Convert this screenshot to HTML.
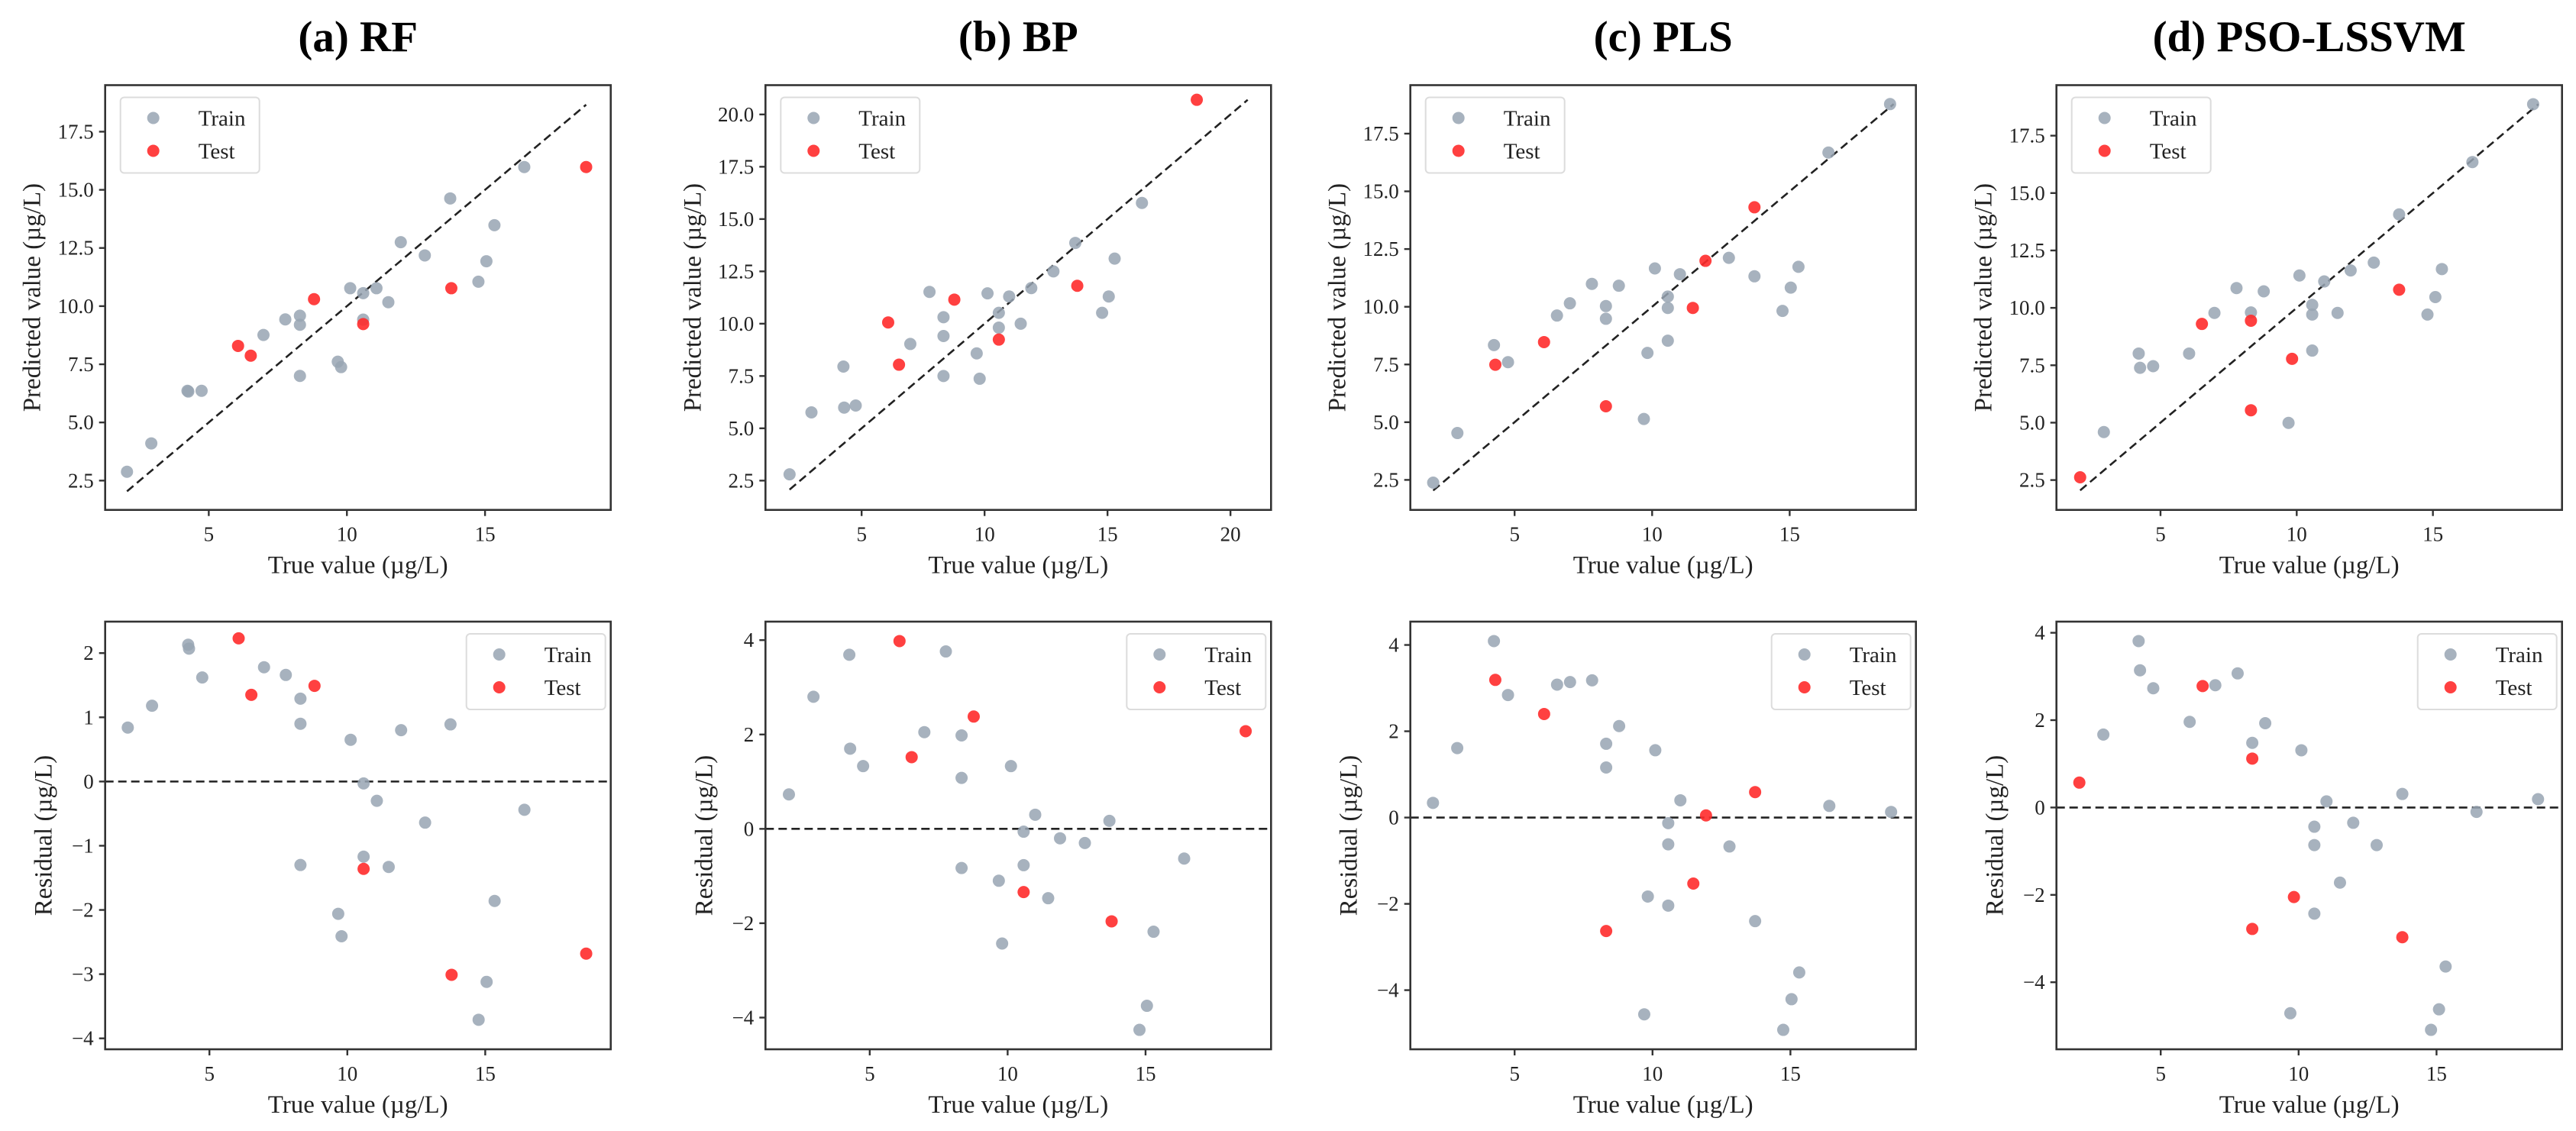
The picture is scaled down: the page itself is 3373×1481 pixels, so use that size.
<!DOCTYPE html>
<html><head><meta charset="utf-8">
<style>
html,body{margin:0;padding:0;background:#fff;}
svg{display:block;font-family:"Liberation Serif","DejaVu Serif",serif;}
</style></head>
<body>
<svg id="fig" xmlns="http://www.w3.org/2000/svg" width="3373" height="1481" viewBox="0 0 3373 1481"></svg>
<script>
// ---------- data ----------
const aTrainTrue=[2.04,2.92,4.23,4.26,4.74,6.98,7.77,8.3,8.3,8.3,9.67,9.79,10.12,10.59,10.59,11.07,11.5,11.95,12.82,13.74,14.76,15.05,15.34,16.42];
const aTrainPred=[2.88,4.1,6.36,6.33,6.36,8.76,9.43,9.59,9.2,7.0,7.61,7.38,10.77,10.56,9.42,10.77,10.17,12.75,12.18,14.63,11.05,11.93,13.48,15.98];
const aTestTrue=[6.06,6.52,8.81,10.59,13.78,18.66];
const aTestPred=[8.29,7.87,10.3,9.23,10.77,15.98];

const bTrainTrue=[2.07,2.96,4.26,4.29,4.76,6.98,7.76,8.33,8.33,8.33,9.68,9.8,10.12,10.58,10.58,11.0,11.47,11.9,12.8,13.69,14.78,15.05,15.29,16.4];
const bTrainPred=[2.8,5.76,7.95,5.99,6.09,9.03,11.52,10.31,9.41,7.5,8.58,7.37,11.45,10.52,9.81,11.3,10.0,11.7,12.5,13.86,10.52,11.3,13.11,15.77];
const bTestTrue=[6.08,6.52,8.77,10.58,13.77,18.63];
const bTestPred=[10.06,8.04,11.15,9.24,11.81,20.7];

const cTrainTrue=[2.04,2.92,4.25,4.76,6.54,7.01,7.81,8.32,8.32,8.79,9.7,9.83,10.1,10.57,10.57,10.57,11.01,12.79,13.72,14.74,15.04,15.32,16.41,18.65];
const cTrainPred=[2.38,4.53,8.34,7.6,9.62,10.15,10.99,10.03,9.48,10.91,5.14,8.0,11.66,10.44,9.95,8.53,11.41,12.12,11.32,9.82,10.83,11.73,16.68,18.78];
const cTestTrue=[4.3,6.07,8.32,11.48,11.94,13.72];
const cTestPred=[7.49,8.47,5.69,9.95,11.99,14.31];

const dTrainTrue=[2.92,4.2,4.25,4.73,6.05,6.98,7.79,8.32,8.79,9.7,10.1,10.57,10.57,10.57,11.01,11.5,11.98,12.83,13.76,14.8,15.09,15.33,16.45,18.68];
const dTrainPred=[4.59,8.01,7.39,7.46,8.01,9.78,10.86,9.8,10.72,4.99,11.41,10.13,9.71,8.14,11.15,9.78,11.63,11.97,14.07,9.71,10.47,11.69,16.35,18.87];
const dTestTrue=[2.05,6.52,8.32,8.32,9.83,13.76];
const dTestPred=[2.62,9.3,9.44,5.54,7.78,10.79];

const panelTitles=["(a) RF","(b) BP","(c) PLS","(d) PSO-LSSVM"];
const topYTicks=[2.5,5.0,7.5,10.0,12.5,15.0,17.5];
const topYTicksB=[2.5,5.0,7.5,10.0,12.5,15.0,17.5,20.0];
const topXTicks=[5,10,15];
const topXTicksB=[5,10,15,20];
const resYTicksA=[-4,-3,-2,-1,0,1,2];
const resYTicks=[-4,-2,0,2,4];

// ---------- layout ----------
const NS="http://www.w3.org/2000/svg";
const svg=document.getElementById('fig');
const lefts=[137.7,1002.3,1846.7,2692.7];
const W=662;
const topBox={y0:111.5,y1:667.7};
const botBox={y0:814,y1:1374};
const topLims=[{x:[1.25,19.55],y:[1.24,19.5]},{x:[1.09,21.65],y:[1.1,21.4]},{x:[1.21,19.59],y:[1.2,19.6]},{x:[1.18,19.74],y:[1.2,19.7]}];
const GREY="#98a5b3", RED="#ff2b2b", AX="#333";

function el(tag,attrs,parent){const e=document.createElementNS(NS,tag);for(const k in attrs)e.setAttribute(k,attrs[k]);(parent||svg).appendChild(e);return e;}
function fmt(v,dec){let s=v.toFixed(dec);return s.replace('-','\u2212');}

function drawPanel(i,kind,trT,trP,teT,teP,yTicks,xTicks,xlim,ylim,yDec,legendRight){
  const L=lefts[i],R=L+W;
  const box=kind==='top'?topBox:botBox;
  const g=el('g',{});
  
  
  const sx=v=>L+(v-xlim[0])/(xlim[1]-xlim[0])*W;
  const sy=v=>box.y1-(v-ylim[0])/(ylim[1]-ylim[0])*(box.y1-box.y0);
  const clip='clip'+kind+i;
  const cp=el('clipPath',{id:clip},g);el('rect',{x:L,y:box.y0,width:W,height:box.y1-box.y0},cp);
  if(kind==='top'){
    const all=trT.concat(trP,teT,teP);const mn=Math.min(...all),mx=Math.max(...all);
    const ln=el('line',{x1:sx(mn),y1:sy(mn),x2:sx(mx),y2:sy(mx),stroke:"#222","stroke-width":2.6,"stroke-dasharray":"11 6"},g);
    
    
  }else{
    const ln=el('line',{x1:L,y1:sy(0),x2:R,y2:sy(0),stroke:"#222","stroke-width":2.6,"stroke-dasharray":"11 6"},g);
    
    
  }
  const pts=el('g',{"clip-path":"url(#"+clip+")"},g);
  trT.forEach((t,k)=>{const c=el('circle',{cx:sx(t),cy:sy(trP[k]),r:8,fill:GREY,"fill-opacity":0.85},pts);
    
    });
  teT.forEach((t,k)=>{const c=el('circle',{cx:sx(t),cy:sy(teP[k]),r:8,fill:RED,"fill-opacity":0.9},pts);
    
    });
  const fr=el('rect',{x:L,y:box.y0,width:W,height:box.y1-box.y0,fill:"none",stroke:AX,"stroke-width":2.6},g);
  
  
  yTicks.forEach(v=>{const y=sy(v);
    el('line',{x1:L-8,y1:y,x2:L,y2:y,stroke:AX,"stroke-width":2.4},g);
    const t=el('text',{x:L-15,y:y+9,"text-anchor":"end","font-size":27,fill:"#222"},g);t.textContent=fmt(v,yDec);
    
    });
  xTicks.forEach(v=>{const x=sx(v);
    el('line',{x1:x,y1:box.y1,x2:x,y2:box.y1+8,stroke:AX,"stroke-width":2.4},g);
    const t=el('text',{x:x,y:box.y1+41,"text-anchor":"middle","font-size":27,fill:"#222"},g);t.textContent=fmt(v,0);
    
    });
  const xl=el('text',{x:L+W/2,y:box.y1+83,"text-anchor":"middle","font-size":33,fill:"#222"},g);
  xl.textContent="True value (\u00b5g/L)";
  
  
  const cy=(box.y0+box.y1)/2, lx=kind==='top'?L-85:L-70;
  const yl=el('text',{x:lx,y:cy,"text-anchor":"middle","font-size":33,fill:"#222",transform:`rotate(-90 ${lx} ${cy})`},g);
  yl.textContent=kind==='top'?"Predicted value (\u00b5g/L)":"Residual (\u00b5g/L)";
  
  
  const lw=182,lh=99;const lxp=legendRight?R-7-lw:L+20, lyp=box.y0+16;
  const lg=el('g',{},g);
  
  
  el('rect',{x:lxp,y:lyp,width:lw,height:lh,rx:5,fill:"#fff","fill-opacity":0.85,stroke:"#dcdcdc","stroke-width":2},lg);
  [["Train",GREY,0.85],["Test",RED,0.9]].forEach((e,k)=>{
    const yy=lyp+27+k*43;
    const row=el('g',{},lg);
    
    
    el('circle',{cx:lxp+43,cy:yy,r:8,fill:e[1],"fill-opacity":e[2]},row);
    const t=el('text',{x:lxp+102,y:yy+10,"font-size":29,fill:"#222"},row);t.textContent=e[0];
  });
  if(kind==='top'){
    const t=el('text',{x:L+W/2,y:67,"text-anchor":"middle","font-size":57,"font-weight":"bold",fill:"#000"},g);
    t.textContent=panelTitles[i];
    
    
  }
}
function resid(t,p){return p.map((v,k)=>v-t[k]);}
function autoLim(arrs){const all=[].concat(...arrs);const mn=Math.min(...all),mx=Math.max(...all),m=(mx-mn)*0.05;return [mn-m,mx+m];}

const sets=[[aTrainTrue,aTrainPred,aTestTrue,aTestPred],[bTrainTrue,bTrainPred,bTestTrue,bTestPred],[cTrainTrue,cTrainPred,cTestTrue,cTestPred],[dTrainTrue,dTrainPred,dTestTrue,dTestPred]];
sets.forEach((s,i)=>{
  const [trT,trP,teT,teP]=s;
  drawPanel(i,'top',trT,trP,teT,teP,i===1?topYTicksB:topYTicks,i===1?topXTicksB:topXTicks,topLims[i].x,topLims[i].y,1,false);
  const rTr=resid(trT,trP),rTe=resid(teT,teP);
  const yl=i===0?[-4.17,2.49]:autoLim([rTr,rTe]);
  drawPanel(i,'bot',trT,rTr,teT,rTe,i===0?resYTicksA:resYTicks,topXTicks,[1.22,19.55],yl,0,true);
});
</script>
</body></html>
